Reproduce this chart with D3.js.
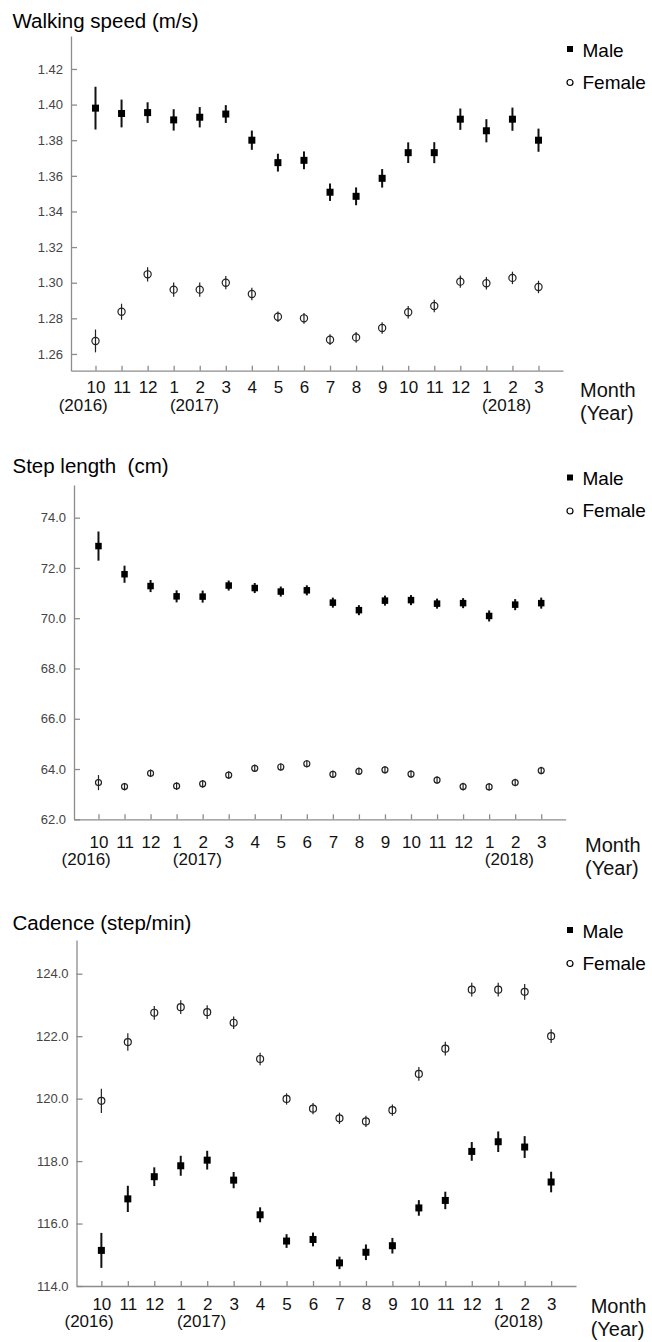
<!DOCTYPE html>
<html>
<head>
  <meta charset="UTF-8">
  <style>
    body { margin: 0; background: #fff; }
    svg { display: block; font-family: "Liberation Sans", Arial, sans-serif; }
    .axis path, .axis line { stroke: #8c8c8c; stroke-width: 1.3; }
    .ylab text { fill: #444; font-size: 13px; }
    .xlab text { fill: #111; font-size: 17px; }
  </style>
</head>
<body>
<svg></svg>
<script src="https://d3js.org/d3.v7.min.js"></script>
<script>
const width = 652, height = 1342;

// months Oct 2016 .. Mar 2018
const months = ["10","11","12","1","2","3","4","5","6","7","8","9","10","11","12","1","2","3"];
const years = [{i: 0, text: "(2016)"}, {i: 3, text: "(2017)"}, {i: 15, text: "(2018)"}];

// walking speed (m/s): mean and half error bar
const speedMale    = [1.398,1.395,1.3955,1.3914,1.3929,1.3947,1.380,1.3674,1.3687,1.3508,1.3485,1.3586,1.373,1.373,1.3918,1.3853,1.3918,1.380];
const speedMaleErr = [0.012,0.0078,0.0058,0.006,0.0057,0.005,0.0054,0.005,0.005,0.0049,0.005,0.0052,0.0058,0.0059,0.006,0.0065,0.0065,0.0065];
const speedFemale    = [1.2673,1.2837,1.3047,1.2961,1.2961,1.300,1.2937,1.2809,1.280,1.268,1.2693,1.2746,1.2834,1.2869,1.3006,1.2997,1.3027,1.2976];
const speedFemaleErr = [0.0064,0.0045,0.004,0.004,0.004,0.0037,0.0035,0.003,0.003,0.003,0.003,0.0032,0.0035,0.0035,0.0035,0.0035,0.0035,0.0035];
const speedTicks = [1.26,1.28,1.30,1.32,1.34,1.36,1.38,1.40,1.42];

// step length (cm)
const stepMale    = [72.87,71.75,71.28,70.87,70.86,71.30,71.20,71.06,71.11,70.62,70.32,70.70,70.72,70.58,70.60,70.09,70.54,70.60];
const stepMaleErr = [0.58,0.34,0.24,0.24,0.24,0.2,0.2,0.2,0.2,0.2,0.2,0.2,0.2,0.2,0.2,0.22,0.22,0.22];
const stepFemale    = [63.46,63.30,63.83,63.32,63.41,63.76,64.03,64.08,64.21,63.79,63.91,63.97,63.80,63.56,63.30,63.29,63.46,63.94];
const stepFemaleErr = [0.3,0.15,0.15,0.15,0.15,0.15,0.15,0.15,0.15,0.15,0.15,0.15,0.15,0.15,0.15,0.15,0.15,0.15];
const stepTicks = [62,64,66,68,70,72,74];

// cadence (step/min)
const cadMale    = [115.14,116.79,117.50,117.85,118.03,117.39,116.28,115.44,115.49,114.74,115.08,115.29,116.50,116.74,118.31,118.62,118.45,117.33];
const cadMaleErr = [0.56,0.42,0.3,0.32,0.3,0.26,0.24,0.22,0.22,0.2,0.25,0.25,0.25,0.28,0.3,0.33,0.35,0.33];
const cadFemale    = [119.93,121.81,122.75,122.93,122.77,122.43,121.27,119.99,119.68,119.37,119.27,119.63,120.79,121.60,123.49,123.49,123.42,122.00];
const cadFemaleErr = [0.39,0.28,0.22,0.22,0.22,0.2,0.2,0.18,0.18,0.18,0.18,0.18,0.22,0.22,0.22,0.22,0.25,0.22];
const cadTicks = [114,116,118,120,122,124];

const panels = [
  {title: "Walking speed (m/s)", male: speedMale, maleErr: speedMaleErr, female: speedFemale, femaleErr: speedFemaleErr,
   ticks: speedTicks, fmt: ".2f", domain: [1.2506, 1.4385],
   top: 36, bottom: 370.7, left: 71, right: 563, titleY: 28, legY: 49, monthDy: 22.5, yearDy: 40.7, mtY: 396.7, mtX: 580, r: 3.6, sq: 7},
  {title: "Step length  (cm)", male: stepMale, maleErr: stepMaleErr, female: stepFemale, femaleErr: stepFemaleErr,
   ticks: stepTicks, fmt: ".1f", domain: [62, 75.3],
   top: 485, bottom: 819.3, left: 74, right: 565.7, titleY: 473, legY: 477.5, monthDy: 28.5, yearDy: 46, mtY: 851.7, mtX: 585, r: 3, sq: 6.5},
  {title: "Cadence (step/min)", male: cadMale, maleErr: cadMaleErr, female: cadFemale, femaleErr: cadFemaleErr,
   ticks: cadTicks, fmt: ".1f", domain: [114, 125.08],
   top: 940, bottom: 1286, left: 76.5, right: 576, titleY: 930, legY: 930, monthDy: 23.5, yearDy: 41, mtY: 1313, mtX: 590.7, r: 3.5, sq: 7}
];

const yearShift = [-12.3, 20.8, 20.3];

const svg = d3.select("svg")
  .attr("width", width)
  .attr("height", height)
  .attr("viewBox", `0 0 ${width} ${height}`);

panels.forEach(p => {
  const g = svg.append("g");

  const x = d3.scalePoint()
    .domain(d3.range(months.length))
    .range([p.left, p.right])
    .padding(0.94);

  const y = d3.scaleLinear()
    .domain(p.domain)
    .range([p.bottom, p.top]);

  // y axis, ticks pointing inward
  g.append("g")
    .attr("class", "axis ylab")
    .attr("transform", `translate(${p.left},0)`)
    .call(d3.axisLeft(y).tickValues(p.ticks).tickFormat(d3.format(p.fmt))
      .tickSizeInner(-6).tickSizeOuter(0).tickPadding(8));

  // x axis
  g.append("g")
    .attr("class", "axis xlab")
    .attr("transform", `translate(0,${p.bottom})`)
    .call(d3.axisBottom(x).tickFormat(i => months[i])
      .tickSizeInner(-5).tickSizeOuter(0).tickPadding(0))
    .selectAll("text")
    .attr("dy", null)
    .attr("y", p.monthDy);

  g.selectAll(".year")
    .data(years)
    .join("text")
    .attr("class", "year")
    .attr("x", (d, k) => x(d.i) + yearShift[k])
    .attr("y", p.bottom + p.yearDy)
    .attr("text-anchor", "middle")
    .style("font-size", "17px")
    .attr("fill", "#111")
    .text(d => d.text);

  g.append("text")
    .attr("x", 12.5)
    .attr("y", p.titleY)
    .style("font-size", "20.5px")
    .style("white-space", "pre")
    .attr("fill", "#000")
    .text(p.title);

  const mt = g.append("text")
    .attr("x", p.mtX)
    .attr("y", p.mtY)
    .style("font-size", "20px")
    .attr("fill", "#111");
  mt.append("tspan").attr("x", p.mtX).text("Month");
  mt.append("tspan").attr("x", p.mtX).attr("dy", 23).text("(Year)");

  // male: error bars + filled squares
  const mg = g.append("g");
  mg.selectAll("line")
    .data(p.male)
    .join("line")
    .attr("x1", (d, i) => x(i))
    .attr("x2", (d, i) => x(i))
    .attr("y1", (d, i) => y(d - p.maleErr[i]))
    .attr("y2", (d, i) => y(d + p.maleErr[i]))
    .attr("stroke", "#111")
    .attr("stroke-width", 2);
  mg.selectAll("rect")
    .data(p.male)
    .join("rect")
    .attr("x", (d, i) => x(i) - p.sq / 2)
    .attr("y", d => y(d) - p.sq / 2)
    .attr("width", p.sq)
    .attr("height", p.sq)
    .attr("fill", "#000");

  // female: error bars + hollow circles
  const fg = g.append("g");
  fg.selectAll("line")
    .data(p.female)
    .join("line")
    .attr("x1", (d, i) => x(i))
    .attr("x2", (d, i) => x(i))
    .attr("y1", (d, i) => y(d - p.femaleErr[i]))
    .attr("y2", (d, i) => y(d + p.femaleErr[i]))
    .attr("stroke", "#222")
    .attr("stroke-width", 1.2);
  fg.selectAll("circle")
    .data(p.female)
    .join("circle")
    .attr("cx", (d, i) => x(i))
    .attr("cy", d => y(d))
    .attr("r", p.r)
    .attr("fill", "none")
    .attr("stroke", "#222")
    .attr("stroke-width", 1.2);

  // legend
  const lg = g.append("g").attr("transform", `translate(570,${p.legY})`);
  lg.append("rect").attr("x", -3).attr("y", -3).attr("width", 6).attr("height", 6).attr("fill", "#000");
  lg.append("text").attr("x", 12.5).attr("y", 7.5).style("font-size", "19px").text("Male");
  lg.append("circle").attr("cx", 0).attr("cy", 33.5).attr("r", 3).attr("fill", "none").attr("stroke", "#000").attr("stroke-width", 1.2);
  lg.append("text").attr("x", 12.5).attr("y", 39.5).style("font-size", "19px").text("Female");
});
</script>
</body>
</html>
